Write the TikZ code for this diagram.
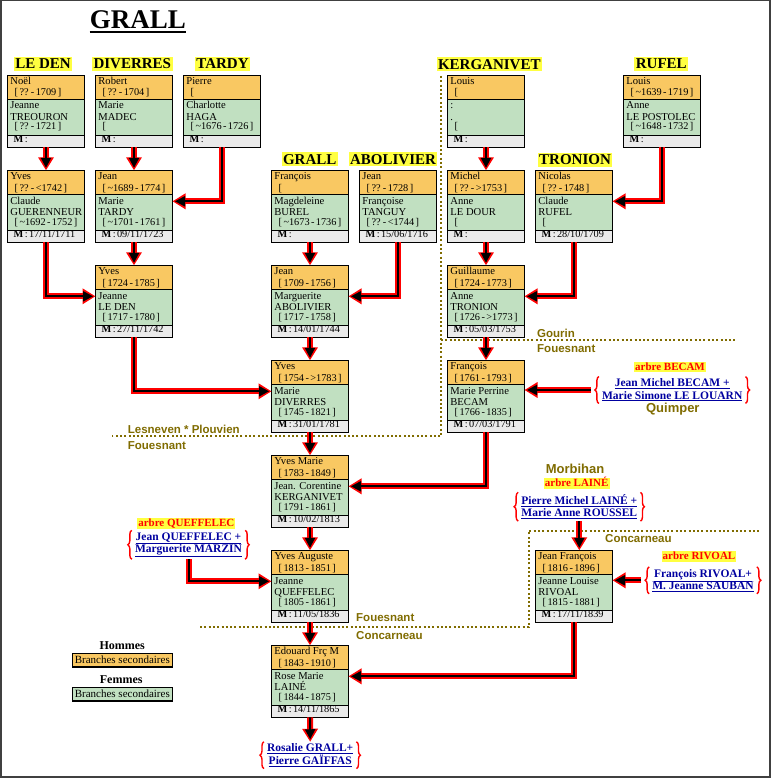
\documentclass[tikz,border=0pt]{standalone}
\usepackage{fontspec}
\setmainfont{Liberation Serif}
\newfontfamily\placefont{Liberation Sans}
\usetikzlibrary{arrows.meta,calc,decorations.pathreplacing}
\definecolor{hom}{RGB}{249,200,98}
\definecolor{fem}{RGB}{193,224,193}
\definecolor{mar}{RGB}{234,234,234}
\definecolor{hl}{RGB}{255,255,64}
\definecolor{placecol}{RGB}{128,108,0}
\definecolor{linkblue}{RGB}{0,0,160}
\definecolor{framegray}{RGB}{64,64,64}
\newcommand\datefont{\fontsize{10.3}{12}\selectfont\spaceskip 1.4pt\relax}
\tikzset{
 boxframe/.style={draw, line width=1.2pt, anchor=north west, minimum width=77pt, minimum height=72pt, inner sep=0pt, outer sep=0pt},
 sepline/.style={line width=1pt},
 nm/.style={anchor=base west, inner sep=0pt, font=\fontsize{10.6}{12}\selectfont},
 dt/.style={anchor=base west, inner sep=0pt, font=\datefont},
 famhead/.style={fill=hl, font=\fontsize{15}{16}\selectfont\bfseries, inner xsep=1.5pt, inner ysep=1pt, text height=10.8pt, text depth=1.2pt},
 arbre/.style={fill=hl, text=red, font=\fontsize{11}{12}\selectfont\bfseries, inner xsep=1pt, inner ysep=0.5pt, text height=8pt, text depth=1.5pt},
 reflink/.style={text=linkblue, font=\fontsize{11.5}{12.4}\selectfont\bfseries, align=center, inner xsep=1pt, inner ysep=2pt},
 place/.style={text=placecol, font=\placefont\bfseries\fontsize{11.5}{13}\selectfont, inner sep=0pt, anchor=west},
 placebig/.style={text=placecol, font=\placefont\bfseries\fontsize{13}{14}\selectfont, inner sep=0pt},
 dotline/.style={draw=placecol, line width=2pt, dash pattern=on 2pt off 2.3pt},
 redbrace/.style={draw=red, line width=1.4pt, decorate, decoration={brace, amplitude=4pt}},
 legbox/.style={draw, line width=1.2pt, minimum width=100pt, minimum height=13.7pt, inner sep=0pt, font=\fontsize{11}{12}\selectfont},
 legtitle/.style={font=\fontsize{12}{13}\selectfont\bfseries, inner sep=0pt},
 conn/.style={draw=red, line width=6pt, line join=miter, -{Triangle[length=13pt,width=15pt]},
   postaction={draw=black, line width=2pt, -{Triangle[length=10pt,width=10pt]}, shorten >=2.5pt}}
}
\newcommand\famille[9]{%
  \begin{scope}[shift={(#2,#3)}]
    \fill[hom] (0,0) rectangle (77,24);
    \fill[fem] (0,24) rectangle (77,60);
    \fill[mar] (0,60) rectangle (77,72);
    \draw[sepline] (0,24) -- (77,24) (0,60) -- (77,60);
    \node[boxframe] (#1) at (0,0) {};
    \node[nm] (#1h) at (2.7,9) {#4};
    \node[dt] (#1hd) at (7,20.7) {#5};
    \node[nm] (#1w) at (2.7,33.7) {#6};
    \node[nm] (#1wn) at (2.7,45.4) {#7};
    \node[dt] (#1wd) at (7,54.7) {#8};
    \node[dt] (#1m) at (6,67.4) {\textbf{M} : #9};
  \end{scope}}
\newcommand\refbraces[1]{%
  \draw[redbrace] ([xshift=-2pt]#1.south west) -- ([xshift=-2pt]#1.north west);
  \draw[redbrace] ([xshift=2pt]#1.north east) -- ([xshift=2pt]#1.south east);}
\begin{document}
\begin{tikzpicture}[x=1pt,y=-1pt]
\useasboundingbox (0,0) rectangle (771,778);
\fill[white] (0,0) rectangle (771,778);
\draw[framegray, line width=1.5pt] (0.75,0.75) rectangle (769.8,776.8);

% title
\node[anchor=base, inner sep=0pt, font=\fontsize{27}{28}\selectfont\bfseries] (title) at (137.9,28.3) {GRALL};
\draw[line width=2.3pt] ($(title.base west)+(0,3.9)$) -- ($(title.base east)+(0,3.9)$);

% dotted boundaries
\draw[dotline] (441,76) -- (441,436.3) -- (112,436.3);
\draw[dotline] (441,340.3) -- (736,340.3);
\draw[dotline] (200,627) -- (528.7,627) -- (528.7,530.7) -- (761,530.7);

% place names
\node[place] (p1) at (127.7,429) {Lesneven * Plouvien};
\node[place] (p2) at (127.7,445.7) {Fouesnant};
\node[place] (p3) at (537,333.3) {Gourin};
\node[place] (p4) at (537,348.3) {Fouesnant};
\node[place] (p5) at (356,618) {Fouesnant};
\node[place] (p6) at (356,635.7) {Concarneau};
\node[place] (p7) at (605,538.3) {Concarneau};
\node[placebig] (quimper) at (672.8,409) {Quimper};
\node[placebig] (morbihan) at (575,469) {Morbihan};

% family headings
\node[famhead] (hleden) at (43,64.2) {LE DEN};
\node[famhead] (hdiverres) at (132.3,64.2) {DIVERRES};
\node[famhead] (htardy) at (222.5,64.2) {TARDY};
\node[famhead] (hkerganivet) at (489.3,64.3) {KERGANIVET};
\node[famhead] (hrufel) at (661.3,64.2) {RUFEL};
\node[famhead] (hgrall) at (309.7,159.5) {GRALL};
\node[famhead] (habolivier) at (393,159.5) {ABOLIVIER};
\node[famhead] (htronion) at (575,159.7) {TRONION};

% family boxes
\famille{noel}{7.5}{75.3}{Noël}{[ ?? - 1709 ]}{Jeanne}{TREOURON}{[ ?? - 1721 ]}{}
\famille{robert}{95.5}{75.3}{Robert}{[ ?? - 1704 ]}{Marie}{MADEC}{[}{}
\famille{pierre}{183.5}{75.3}{Pierre}{[}{Charlotte}{HAGA}{[ \textasciitilde1676 - 1726 ]}{}
\famille{louisk}{447.5}{75.3}{Louis}{[}{:}{.}{[}{}
\famille{louisr}{623.5}{75.3}{Louis}{[ \textasciitilde1639 - 1719 ]}{Anne}{LE POSTOLEC}{[ \textasciitilde1648 - 1732 ]}{}
\famille{yvesa}{7.5}{170.3}{Yves}{[ ?? - <1742 ]}{Claude}{GUERENNEUR}{[ \textasciitilde1692 - 1752 ]}{17/11/1711}
\famille{jeana}{95.5}{170.3}{Jean}{[ \textasciitilde1689 - 1774 ]}{Marie}{TARDY}{[ \textasciitilde1701 - 1761 ]}{09/11/1723}
\famille{francoisa}{271.5}{170.3}{François}{[}{Magdeleine}{BUREL}{[ \textasciitilde1673 - 1736 ]}{}
\famille{jeanb}{359.5}{170.3}{Jean}{[ ?? - 1728 ]}{Françoise}{TANGUY}{[ ?? - <1744 ]}{15/06/1716}
\famille{michel}{447.5}{170.3}{Michel}{[ ?? - >1753 ]}{Anne}{LE DOUR}{[}{}
\famille{nicolas}{535.5}{170.3}{Nicolas}{[ ?? - 1748 ]}{Claude}{RUFEL}{[}{28/10/1709}
\famille{yvesb}{95.5}{265.3}{Yves}{[ 1724 - 1785 ]}{Jeanne}{LE DEN}{[ 1717 - 1780 ]}{27/11/1742}
\famille{jeanc}{271.5}{265.3}{Jean}{[ 1709 - 1756 ]}{Marguerite}{ABOLIVIER}{[ 1717 - 1758 ]}{14/01/1744}
\famille{guillaume}{447.5}{265.3}{Guillaume}{[ 1724 - 1773 ]}{Anne}{TRONION}{[ 1726 - >1773 ]}{05/03/1753}
\famille{yvesc}{271.5}{360.3}{Yves}{[ 1754 - >1783 ]}{Marie}{DIVERRES}{[ 1745 - 1821 ]}{31/01/1781}
\famille{francoisb}{447.5}{360.3}{François}{[ 1761 - 1793 ]}{Marie Perrine}{BECAM}{[ 1766 - 1835 ]}{07/03/1791}
\famille{yvesmarie}{271.5}{455.3}{Yves Marie}{[ 1783 - 1849 ]}{Jean. Corentine}{KERGANIVET}{[ 1791 - 1861 ]}{10/02/1813}
\famille{yvesaug}{271.5}{550.3}{Yves Auguste}{[ 1813 - 1851 ]}{Jeanne}{QUEFFELEC}{[ 1805 - 1861 ]}{11/05/1836}
\famille{jeanfr}{535.5}{550.3}{Jean François}{[ 1816 - 1896 ]}{Jeanne Louise}{RIVOAL}{[ 1815 - 1881 ]}{17/11/1839}
\famille{edouard}{271.5}{645.3}{Edouard Frç M}{[ 1843 - 1910 ]}{Rose Marie}{LAINÉ}{[ 1844 - 1875 ]}{14/11/1865}

% external trees
\node[arbre] (becamtag) at (670,367) {arbre BECAM};
\node[reflink] (becam) at (672.2,390) {\underline{Jean Michel BECAM +}\\\underline{Marie Simone LE LOUARN}};
\node[arbre] (lainetag) at (576.7,483.7) {arbre LAINÉ};
\node[reflink] (laine) at (579.3,506.7) {\underline{Pierre Michel LAINÉ +}\\\underline{Marie Anne ROUSSEL}};
\node[arbre] (rivoaltag) at (699,556.7) {arbre RIVOAL};
\node[reflink] (rivoal) at (703,580.3) {\underline{François RIVOAL+}\\\underline{M. Jeanne SAUBAN}};
\node[arbre] (querftag) at (186.3,523.3) {arbre QUEFFELEC};
\node[reflink] (queff) at (188.5,544.8) {\underline{Jean QUEFFELEC +}\\\underline{Marguerite MARZIN}};
\node[reflink] (rosalie) at (310.2,755.2) {\underline{Rosalie GRALL+}\\\underline{Pierre GAÏFFAS}};
\refbraces{becam}
\refbraces{laine}
\refbraces{rivoal}
\refbraces{queff}
\refbraces{rosalie}

% legend
\node[legtitle] (hommes) at (122.2,645.7) {Hommes};
\node[legbox, fill=hom] (leghom) at (122.3,660.2) {Branches secondaires};
\node[legtitle] (femmes) at (121.2,680) {Femmes};
\node[legbox, fill=fem] (legfem) at (122.3,694.2) {Branches secondaires};

% connectors
\draw[conn] (noel.south) -- (yvesa.north);
\draw[conn] (robert.south) -- (jeana.north);
\draw[conn] (pierre.south) |- ($(jeana.north east)+(0,31)$);
\draw[conn] (yvesa.south) |- ($(yvesb.north west)+(0,31)$);
\draw[conn] (jeana.south) -- (yvesb.north);
\draw[conn] (yvesb.south) |- ($(yvesc.north west)+(0,31)$);
\draw[conn] (francoisa.south) -- (jeanc.north);
\draw[conn] (jeanb.south) |- ($(jeanc.north east)+(0,31)$);
\draw[conn] (jeanc.south) -- (yvesc.north);
\draw[conn] (yvesc.south) -- (yvesmarie.north);
\draw[conn] (louisk.south) -- (michel.north);
\draw[conn] (louisr.south) |- ($(nicolas.north east)+(0,31)$);
\draw[conn] (michel.south) -- (guillaume.north);
\draw[conn] (nicolas.south) |- ($(guillaume.north east)+(0,31)$);
\draw[conn] (guillaume.south) -- (francoisb.north);
\draw[conn] ([xshift=-10pt]becam.west) -- (becam.west -| francoisb.east);
\draw[conn] (francoisb.south) |- ($(yvesmarie.north east)+(0,31)$);
\draw[conn] (yvesmarie.south) -- (yvesaug.north);
\draw[conn] (queff.south) |- ($(yvesaug.north west)+(0,31)$);
\draw[conn] (laine.south) -- (laine.south |- jeanfr.north);
\draw[conn] ([xshift=-10pt]rivoal.west) -- (rivoal.west -| jeanfr.east);
\draw[conn] (jeanfr.south) |- ($(edouard.north east)+(0,31)$);
\draw[conn] (yvesaug.south) -- (edouard.north);
\draw[conn] (edouard.south) -- (rosalie.north);
\end{tikzpicture}
\end{document}
